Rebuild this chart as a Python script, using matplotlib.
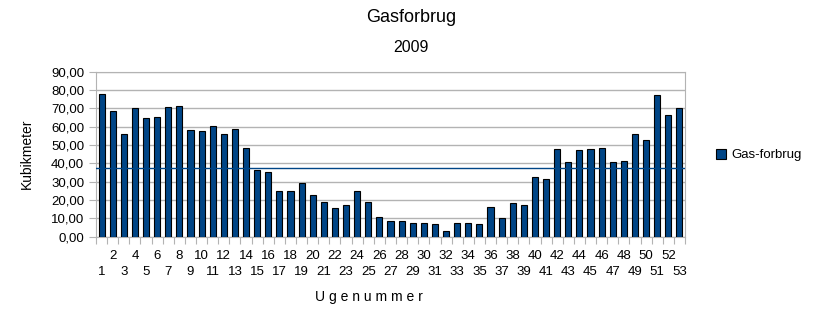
import numpy as np
import matplotlib
matplotlib.use("Agg")
import matplotlib.pyplot as plt
import matplotlib.transforms as mtransforms
from matplotlib.ticker import FuncFormatter, MultipleLocator

plt.rcParams['font.family'] = ['Liberation Sans', 'DejaVu Sans']

# weekly gas use 2009
weeks = list(range(1, 54))
gas = [77.8, 68.5, 56.0, 70.2, 64.7, 65.3, 70.7, 71.3, 58.2, 57.6,
       60.4, 56.0, 58.7, 48.4, 36.4, 35.3, 24.9, 24.9, 29.3, 22.7,
       18.9, 15.6, 17.3, 24.9, 18.9, 10.7, 8.5, 8.5, 7.5, 7.5,
       6.9, 3.1, 7.5, 7.5, 6.9, 16.2, 10.2, 18.4, 17.3, 32.5,
       31.5, 47.8, 40.7, 47.3, 47.8, 48.4, 40.7, 41.3, 56.0, 52.7,
       77.3, 66.4, 70.2]

blue = '#004586'
grey = '#b3b3b3'

fig = plt.figure(figsize=(8.23, 3.22), dpi=100)
ax = fig.add_axes([96/823, 1-236.7/322, (685-96)/823, (236.7-71.7)/322])

ax.bar(weeks, gas, width=0.55, color=blue, edgecolor='black', linewidth=0.8,
       label='Gas-forbrug', zorder=3)
ax.axhline(np.mean(gas), color=blue, lw=1.0, zorder=4)

ax.set_xlim(0.5, 53.5)
ax.set_ylim(0, 90)
ax.yaxis.set_major_locator(MultipleLocator(10))
ax.yaxis.set_major_formatter(FuncFormatter(lambda v, p: ('%.2f' % v).replace('.', ',')))
ax.grid(axis='y', color=grey, lw=1, zorder=0)

# tick marks between the weeks, labels drawn by hand in two rows
ax.set_xticks(np.arange(0.5, 54, 1))
ax.set_xticklabels([])
ax.tick_params(axis='x', length=5, color=grey)
ax.tick_params(axis='y', length=5, color=grey, labelsize=9.5)

trans = mtransforms.blended_transform_factory(ax.transData, ax.transAxes)
for w in weeks:
    dy = -19 if w % 2 == 0 else -35
    ax.annotate(str(w), xy=(w, 0), xycoords=trans, xytext=(0, dy),
                textcoords='offset pixels', ha='center', va='center', fontsize=9.5)

for s in ax.spines.values():
    s.set_color(grey)

ax.set_ylabel('Kubikmeter', fontsize=10)
ax.yaxis.set_label_coords(-0.105, 0.5)
fig.text(369/823, 1-297/322, 'U g e n u m m e r', ha='center', va='center', fontsize=10)

fig.text(411/823, 1-18/322, 'Gasforbrug', ha='center', va='center', fontsize=13)
fig.text(411/823, 1-47/322, '2009', ha='center', va='center', fontsize=11.5)

fig.legend(loc='center left', bbox_to_anchor=(704/823, 1-155/322), frameon=False,
           fontsize=9.5, handlelength=0.8, handleheight=0.8, handletextpad=0.4)

fig.savefig('out.png', dpi=100)
